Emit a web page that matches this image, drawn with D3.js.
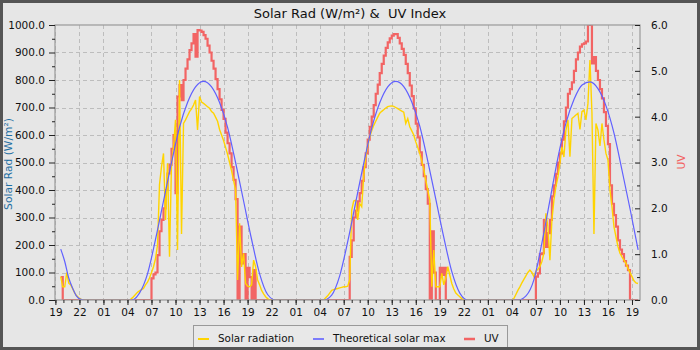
<!DOCTYPE html>
<html>
<head>
<meta charset="utf-8">
<script src="https://cdn.jsdelivr.net/npm/d3@7"></script>
<style>
  body { margin: 0; background: #fff; }
  svg { display: block; font-family: "DejaVu Sans", sans-serif; }
</style>
</head>
<body>
<svg id="chart" width="700" height="350"></svg>
<script>
// readings per day; day 0 is the first evening, start = clock time of first value
const dayIndex = [0, 1, 2, 3];

// solar radiation (W/m²), 15 minute steps
const solarStarts = ["19:40", "04:15", "04:30", "04:00"];
const solarDay0 = [85, 48, 48, 100, 61, 55, 40, 25, 15, 8, 3, 0];
const solarDay1 = [0, 5, 12, 20, 28, 33, 38, 42, 55, 65, 80, 100, 121, 150, 200, 420, 485, 533, 291, 497,
  157, 497, 557, 655, 182, 800, 240, 642, 655, 670, 685, 695, 709, 727, 618, 740, 720, 715, 709, 703,
  697, 685, 679, 665, 650, 620, 600, 580, 555, 530, 500, 470, 435, 400, 73, 279, 120, 170, 60, 50,
  48, 55, 145, 121, 73, 55, 35, 22, 12, 5, 0];
const solarDay2 = [0, 8, 15, 25, 35, 38, 40, 42, 44, 46, 48, 48, 50, 73, 327, 360, 363, 291, 351, 339,
  450, 520, 560, 594, 615, 635, 650, 665, 679, 686, 692, 698, 703, 705, 706, 704, 700, 696, 691, 687,
  683, 642, 660, 630, 615, 600, 575, 555, 533, 505, 475, 435, 400, 363, 48, 182, 48, 48, 48, 97,
  55, 80, 121, 90, 60, 40, 25, 18, 12, 5, 0];
const solarDay3 = [0, 5, 20, 35, 48, 62, 75, 88, 100, 109, 100, 85, 105, 112, 121, 140, 170, 315, 267, 145,
  291, 363, 412, 448, 497, 557, 520, 618, 655, 521, 660, 666, 673, 679, 620, 685, 691, 655, 715, 873,
  679, 240, 642, 618, 560, 642, 582, 533, 509, 400, 339, 267, 230, 194, 170, 157, 145, 133, 115, 100,
  85, 70, 62, 60];

// theoretical solar max (W/m²)
const theoStarts = ["19:40", "04:30", "04:30", "04:46"];
const theoSteps = [30, 60, 60, 60]; // minutes
const theoDay0 = [185, 140, 80, 42, 13, 2, 0];
const theoDay1 = [0, 25, 95, 220, 360, 500, 628, 718, 775, 795, 775, 718, 628, 500, 360, 220, 95, 20, 0];
const theoDay2 = [0, 18, 88, 212, 355, 497, 625, 717, 775, 795, 776, 720, 632, 505, 367, 228, 103, 25, 0];
const theoDay3 = [0, 15, 75, 210, 365, 520, 645, 730, 782, 793, 768, 705, 605, 470, 330, 182];

// UV index, 15 minute steps
const uvStarts = ["19:40", "07:00", "07:45", "07:00"];
const uvDay0 = [0.5, 0];
const uvDay1 = [0.47, 0.56, 0.6, 0.98, 1.5, 1.75, 2.0, 2.4, 2.76, 2.95, 3.3, 3.6, 2.33, 4.44, 4.69, 4.36,
  4.8, 5.05, 5.25, 5.45, 5.6, 5.8, 5.31, 5.89, 5.88, 5.85, 5.78, 5.7, 5.55, 5.4, 5.22, 5.05, 4.82, 4.6,
  4.38, 4.15, 3.95, 3.65, 3.42, 3.2, 2.9, 2.62, 2.2, 0, 1.6, 0.8, 1.0, 0, 0.7, 0.5, 0, 0.65, 0];
const uvDay2 = [0.94, 1.3, 1.8, 1.95, 2.15, 2.33, 2.6, 2.9, 3.2, 3.5, 3.78, 4.0, 4.25, 4.5, 4.7, 4.95,
  5.15, 5.33, 5.5, 5.62, 5.71, 5.77, 5.8, 5.8, 5.72, 5.6, 5.48, 5.35, 5.15, 4.95, 4.68, 4.45, 4.18, 3.85,
  3.55, 3.22, 2.95, 2.7, 2.42, 2.1, 0, 1.5, 0.6, 0, 0, 0.7, 0.55, 0.7, 0];
const uvDay3 = [0.51, 0.58, 1.0, 1.02, 1.75, 1.16, 1.46, 1.75, 2.26, 2.5, 2.75, 3.0, 3.2, 3.5, 3.9, 4.2,
  4.5, 4.6, 4.75, 5.0, 5.25, 5.4, 5.53, 5.58, 5.6, 5.64, 6.0, 6.0, 5.16, 5.3, 5.0, 4.8, 4.6, 4.4, 4.1,
  3.8, 3.4, 2.5, 2.1, 1.85, 1.6, 1.3, 1.1, 1.0, 0.85, 0.75, 0.65, 0, 0, 0, 0, 0];

const hourTicks = d3.range(19, 92, 3);
const solarTicks = d3.range(0, 1001, 100);
const uvTicks = d3.range(0, 7, 1);

const legendNames = ["Solar radiation", "Theoretical solar max", "UV"];
const colors = {solar: "#ffd400", theo: "#6060ff", uv: "#f26464"};

// ---------------------------------------------------------------

const W = 700, H = 350;
const plot = {left: 55, right: 640, top: 25, bottom: 300};

const toHour = (s, day) => {
  const p = s.split(":").map(Number);
  return day * 24 + p[0] + p[1] / 60;
};

function buildSeries(starts, days, stepMin) {
  let out = [];
  days.forEach((vals, d) => {
    const t0 = toHour(starts[d], dayIndex[d]);
    const st = (Array.isArray(stepMin) ? stepMin[d] : stepMin) / 60;
    vals.forEach((v, i) => out.push({h: t0 + i * st, v: v}));
  });
  return out;
}

const solar = buildSeries(solarStarts, [solarDay0, solarDay1, solarDay2, solarDay3], 15);
const theo = buildSeries(theoStarts, [theoDay0, theoDay1, theoDay2, theoDay3], theoSteps);
const uv = buildSeries(uvStarts, [uvDay0, uvDay1, uvDay2, uvDay3], 15);

const x = d3.scaleLinear().domain([18.95, 92.0]).range([plot.left, plot.right]);
const ySolar = d3.scaleLinear().domain([0, 1000]).range([plot.bottom, plot.top]);
const yUv = d3.scaleLinear().domain([0, 6]).range([plot.bottom, plot.top]);

const svg = d3.select("#chart");

svg.append("rect")
  .attr("x", 1.5).attr("y", 1.5)
  .attr("width", W - 3).attr("height", H - 3)
  .attr("fill", "#e6e6e6")
  .attr("stroke", "#555")
  .attr("stroke-width", 3);

svg.append("defs").append("clipPath").attr("id", "plotclip")
  .append("rect")
  .attr("x", plot.left).attr("y", plot.top)
  .attr("width", plot.right - plot.left).attr("height", plot.bottom - plot.top);

// grid
const grid = svg.append("g").attr("stroke", "#bdbdbd").attr("stroke-dasharray", "4,3");
grid.selectAll("line.v")
  .data(hourTicks)
  .enter().append("line")
  .attr("x1", d => Math.round(x(d)) + 0.5).attr("x2", d => Math.round(x(d)) + 0.5)
  .attr("y1", plot.top).attr("y2", plot.bottom);
grid.selectAll("line.h")
  .data(solarTicks.filter(d => d > 0 && d < 1000))
  .enter().append("line")
  .attr("y1", d => Math.round(ySolar(d)) + 0.5).attr("y2", d => Math.round(ySolar(d)) + 0.5)
  .attr("x1", plot.left).attr("x2", plot.right);

// lines
const lines = svg.append("g").attr("clip-path", "url(#plotclip)").attr("fill", "none");

lines.append("path")
  .datum(uv)
  .attr("stroke", colors.uv)
  .attr("stroke-width", 2.2)
  .attr("d", d3.line().x(d => x(d.h)).y(d => yUv(d.v)).curve(d3.curveStepAfter));

lines.append("path")
  .datum(solar)
  .attr("stroke", colors.solar)
  .attr("stroke-width", 1.4)
  .attr("d", d3.line().x(d => x(d.h)).y(d => ySolar(d.v)));

lines.append("path")
  .datum(theo)
  .attr("stroke", colors.theo)
  .attr("stroke-width", 1.2)
  .attr("d", d3.line().x(d => x(d.h)).y(d => ySolar(d.v)).curve(d3.curveMonotoneX));

// frame
svg.append("rect")
  .attr("x", plot.left).attr("y", plot.top)
  .attr("width", plot.right - plot.left).attr("height", plot.bottom - plot.top)
  .attr("fill", "none").attr("stroke", "#999").attr("stroke-width", 1.2);

// axes
const fontSize = "10.5px";
function styleAxis(g) {
  g.select(".domain").remove();
  g.selectAll("line").attr("stroke", "#222");
  g.selectAll("text").attr("fill", "#111").style("font-size", fontSize).style("font-family", "DejaVu Sans");
}

svg.append("g")
  .attr("transform", `translate(${plot.left},0)`)
  .call(d3.axisLeft(ySolar).tickValues(solarTicks).tickFormat(d3.format(".1f")).tickSize(6).tickPadding(4))
  .call(styleAxis);
svg.append("g")
  .attr("transform", `translate(${plot.left},0)`)
  .call(d3.axisLeft(ySolar).tickValues(d3.range(50, 1000, 100)).tickFormat("").tickSize(3))
  .call(styleAxis);

svg.append("g")
  .attr("transform", `translate(0,${plot.bottom})`)
  .call(d3.axisBottom(x).tickValues(hourTicks).tickFormat(h => d3.format("02d")(h % 24)).tickSize(5).tickPadding(4))
  .call(styleAxis);
svg.append("g")
  .attr("transform", `translate(0,${plot.bottom})`)
  .call(d3.axisBottom(x).tickValues(d3.range(19, 92, 1)).tickFormat("").tickSize(3))
  .call(styleAxis);

svg.append("g")
  .attr("transform", `translate(${plot.right},0)`)
  .call(d3.axisRight(yUv).tickValues(uvTicks).tickFormat(d3.format(".1f")).tickSize(-5).tickPadding(11))
  .call(styleAxis);
svg.append("g")
  .attr("transform", `translate(${plot.right},0)`)
  .call(d3.axisRight(yUv).tickValues(d3.range(0.5, 6, 1)).tickFormat("").tickSize(-3))
  .call(styleAxis);

// titles
svg.append("text")
  .attr("x", 350).attr("y", 18)
  .attr("text-anchor", "middle")
  .style("font-size", "13px")
  .attr("fill", "#111")
  .attr("xml:space", "preserve")
  .text("Solar Rad (W/m²) &  UV Index");

svg.append("text")
  .attr("transform", "translate(12,164) rotate(-90)")
  .attr("text-anchor", "middle")
  .style("font-size", "10.7px")
  .attr("fill", "#1f6fa3")
  .text("Solar Rad (W/m²)");

svg.append("text")
  .attr("transform", "translate(685,162) rotate(-90)")
  .attr("text-anchor", "middle")
  .style("font-size", "10.7px")
  .attr("fill", colors.uv)
  .text("UV");

// legend
const legend = svg.append("g");
legend.append("rect")
  .attr("x", 193.5).attr("y", 325.5)
  .attr("width", 314).attr("height", 30)
  .attr("fill", "#e8e8e8").attr("stroke", "#999");

const legendX = [198, 313, 464];
const legendColors = [colors.solar, colors.theo, colors.uv];
const legendWidths = [2, 1.6, 2.5];
legendNames.forEach((name, i) => {
  legend.append("line")
    .attr("x1", legendX[i]).attr("x2", legendX[i] + 11)
    .attr("y1", 339).attr("y2", 339)
    .attr("stroke", legendColors[i]).attr("stroke-width", legendWidths[i]);
  legend.append("text")
    .attr("x", legendX[i] + 20).attr("y", 342)
    .style("font-size", "10.4px")
    .attr("fill", "#111")
    .text(name);
});
// re-draw outer border over legend box
svg.append("rect")
  .attr("x", 1.5).attr("y", 1.5)
  .attr("width", W - 3).attr("height", H - 3)
  .attr("fill", "none")
  .attr("stroke", "#555")
  .attr("stroke-width", 3);
</script>
</body>
</html>
